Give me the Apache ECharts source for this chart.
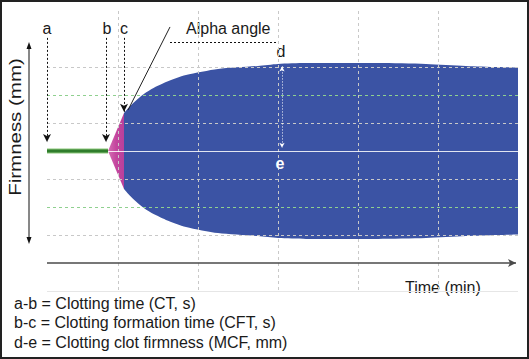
<!DOCTYPE html>
<html>
<head>
<meta charset="utf-8">
<script src="https://cdn.jsdelivr.net/npm/echarts@6/dist/echarts.min.js"></script>
<style>
  html, body { margin: 0; padding: 0; background: #fff; }
  #chart { width: 529px; height: 359px; }
</style>
</head>
<body>
<div id="chart"></div>
<script>
// ---- data (time in min, half-amplitude in mm around the centre line) ----
const ctTime = [1.125, 8.75];                 // baseline (clotting time)
const cftTime = [8.75, 10.75];                // clot formation phase
const cftAmp = [0, 13.6];
const mcfTime = [10.75, 11.5, 12.75, 14, 16, 18.5, 22.5, 27.5, 30, 33.5, 42.5, 48.5, 53.5, 57.5, 60];
const mcfAmp  = [13.6, 16, 19.3, 21.8, 24.6, 27.1, 29.3, 30.4, 31.1, 31.4, 31.4, 31.1, 30.4, 30, 29.8];
const vGrid = [10, 20, 30, 40, 50];           // vertical grid lines (min)
const hGridGray = [10, -10, 30, -30];         // horizontal grid lines (mm)
const hGridGreen = [20, -20];
const markA = 1.125, markB = 8.5, markC = 10.75, markD = 30.5;
const footerLines = [
  'a-b = Clotting time (CT, s)',
  'b-c = Clotting formation time (CFT, s)',
  'd-e = Clotting clot firmness (MCF, mm)'
];

const up = (t, a) => t.map((x, i) => [x, a[i]]);
const down = (t, a) => t.map((x, i) => [x, -a[i]]);

const FONT = 'Liberation Sans, Arial, sans-serif';
const BLUE = '#3b53a4';

const chart = echarts.init(document.getElementById('chart'), null, { renderer: 'svg' });

const gridLineData = [];
vGrid.forEach(v => gridLineData.push([{ coord: [v, 50] }, { coord: [v, -50] }]));
hGridGray.forEach(v => gridLineData.push([{ coord: [1.125, v] }, { coord: [60, v] }]));
hGridGreen.forEach(v => gridLineData.push([
  { coord: [1.125, v], lineStyle: { color: '#8fd08f', type: [3, 3], width: 1 } },
  { coord: [60, v] }
]));
gridLineData.push([
  { coord: [1.125, -50], lineStyle: { color: '#e6e6e6', type: 'solid', width: 1 } },
  { coord: [60, -50] }
]);

const dashedArrow = (x, y1, y2) => [
  { coord: [x, y1], symbol: 'none' },
  { coord: [x, y2], symbol: 'arrow', symbolSize: [6, 8] }
];

const areaSeries = (name, data, color, z, smooth) => ({
  name, type: 'line', data, z,
  showSymbol: false, symbol: 'none', silent: true,
  smooth: smooth,
  lineStyle: { width: 0 },
  areaStyle: { color, opacity: 1 }
});

const pinkGrad = new echarts.graphic.LinearGradient(0, 0, 1, 0, [
  { offset: 0, color: '#d46fb4' },
  { offset: 0.5, color: '#c4469e' },
  { offset: 1, color: '#b9409c' }
]);

chart.setOption({
  animation: false,
  backgroundColor: '#ffffff',
  grid: { left: 38, right: 11, top: 11, bottom: 68 },
  xAxis: { type: 'value', min: 0, max: 60, show: false },
  yAxis: { type: 'value', min: -50, max: 50, show: false },
  series: [
    {
      name: 'gridlines', type: 'line', data: [], z: 1, silent: true,
      markLine: {
        silent: true, symbol: 'none', label: { show: false },
        lineStyle: { color: '#c8c8c8', type: [3, 3], width: 1 },
        data: gridLineData
      }
    },
    areaSeries('mcfUp', up(mcfTime, mcfAmp), BLUE, 2, 0.25),
    areaSeries('mcfDown', down(mcfTime, mcfAmp), BLUE, 2, 0.25),
    areaSeries('cftUp', up(cftTime, cftAmp), pinkGrad, 3, false),
    areaSeries('cftDown', down(cftTime, cftAmp), pinkGrad, 3, false),
    {
      name: 'ctEdge', type: 'line', data: ctTime.map(t => [t, 0]), z: 4, silent: true,
      showSymbol: false, symbol: 'none',
      lineStyle: { width: 5, color: '#8cc77a' }
    },
    {
      name: 'ct', type: 'line', data: ctTime.map(t => [t, 0]), z: 4, silent: true,
      showSymbol: false, symbol: 'none',
      lineStyle: { width: 3, color: '#2f7d2c' }
    },
    {
      name: 'annotations', type: 'line', data: [], z: 6, silent: true,
      markLine: {
        silent: true, label: { show: false }, symbol: 'none',
        lineStyle: { color: '#111', type: [2, 2], width: 1 },
        data: [
          dashedArrow(markA, 40.4, 3.2),
          dashedArrow(markB, 40.4, 3.2),
          dashedArrow(markC, 40.4, 14),
          // alpha angle tangent
          [{ coord: [16.5, 44.3], lineStyle: { type: 'solid', color: '#222', width: 1 } }, { coord: [11.25, 14.6] }],
          // dashed line under "Alpha angle"
          [{ coord: [16.5, 38.9] }, { coord: [30, 38.9] }],
          // centre line
          [{ coord: [8.75, -0.2], lineStyle: { type: 'solid', color: 'rgba(255,255,255,0.85)', width: 1 } }, { coord: [60, -0.2] }],
          // d-e arrow
          [{ coord: [markD, 30.2], symbol: 'arrow', symbolSize: [4, 5], lineStyle: { type: [1, 2], color: '#ffffff', width: 1 } },
           { coord: [markD, 1.2], symbol: 'arrow', symbolSize: [4, 5] }],
          // time axis
          [{ coord: [1.125, -40], lineStyle: { type: 'solid', color: '#4a4a4a', width: 1.5 } },
           { coord: [59.75, -40], symbol: 'arrow', symbolSize: [6, 8] }]
        ]
      }
    }
  ],
  graphic: [
    { type: 'rect', shape: { x: 1, y: 1, width: 527, height: 357 }, style: { fill: 'none', stroke: '#222', lineWidth: 2 }, z: 100 },
    // Firmness double arrow
    { type: 'line', shape: { x1: 29, y1: 47, x2: 29, y2: 239 }, style: { stroke: '#111', lineWidth: 1 } },
    { type: 'polygon', shape: { points: [[29, 42], [26.5, 49], [31.5, 49]] }, style: { fill: '#111' } },
    { type: 'polygon', shape: { points: [[29, 244], [26.5, 237], [31.5, 237]] }, style: { fill: '#111' } },
    { type: 'text', x: 15, y: 127, rotation: Math.PI / 2, scaleX: 1.28, scaleY: 1,
      style: { text: 'Firmness (mm)', font: '16px ' + FONT, fill: '#1a1a1a', align: 'center', verticalAlign: 'middle' } },
    { type: 'text', x: 47, y: 28, style: { text: 'a', font: '16px ' + FONT, fill: '#1a1a1a', align: 'center', verticalAlign: 'middle' } },
    { type: 'text', x: 107, y: 28, style: { text: 'b', font: '16px ' + FONT, fill: '#1a1a1a', align: 'center', verticalAlign: 'middle' } },
    { type: 'text', x: 124, y: 28, style: { text: 'c', font: '16px ' + FONT, fill: '#1a1a1a', align: 'center', verticalAlign: 'middle' } },
    { type: 'text', x: 186, y: 28, style: { text: 'Alpha angle', font: '16px ' + FONT, fill: '#1a1a1a', align: 'left', verticalAlign: 'middle' } },
    { type: 'text', x: 281, y: 51, style: { text: 'd', font: '16px ' + FONT, fill: '#1a1a1a', align: 'center', verticalAlign: 'middle' } },
    { type: 'text', x: 280, y: 163, z: 50, style: { text: 'e', font: 'bold 16px ' + FONT, fill: '#ffffff', align: 'center', verticalAlign: 'middle' } },
    { type: 'text', x: 405, y: 287, style: { text: 'Time (min)', font: '16px ' + FONT, fill: '#1a1a1a', align: 'left', verticalAlign: 'middle' } },
    { type: 'text', x: 14, y: 303, style: { text: footerLines[0], font: '16px ' + FONT, fill: '#1a1a1a', align: 'left', verticalAlign: 'middle' } },
    { type: 'text', x: 14, y: 322, style: { text: footerLines[1], font: '16px ' + FONT, fill: '#1a1a1a', align: 'left', verticalAlign: 'middle' } },
    { type: 'text', x: 14, y: 342, style: { text: footerLines[2], font: '16px ' + FONT, fill: '#1a1a1a', align: 'left', verticalAlign: 'middle' } }
  ]
});
</script>
</body>
</html>
